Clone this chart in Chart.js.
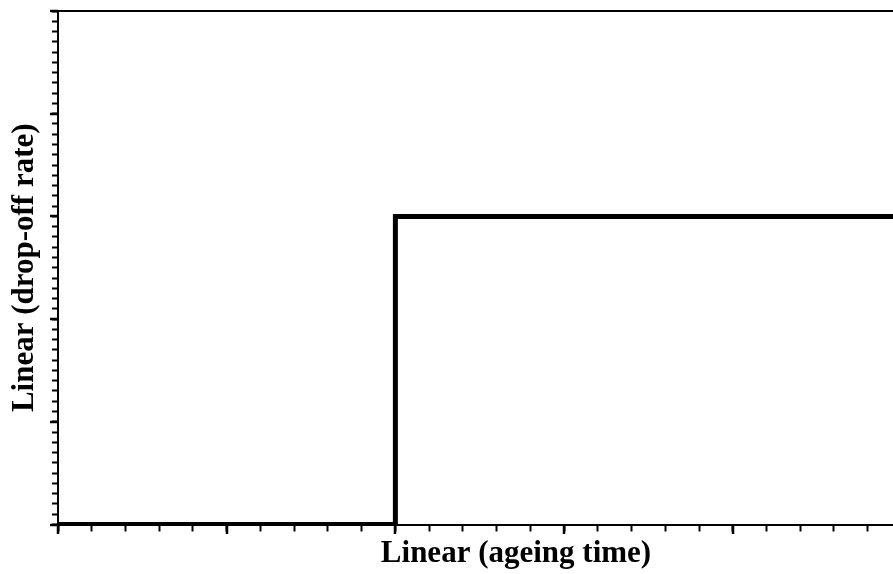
<!DOCTYPE html>
<html>
<head>
<meta charset="utf-8">
<script src="https://cdn.jsdelivr.net/npm/chart.js@4/dist/chart.umd.min.js"></script>
<style>
  html, body { margin: 0; padding: 0; background: #fff; overflow: hidden; }
  #wrap { width: 893px; height: 574px; overflow: hidden; }
  canvas { display: block; }
</style>
</head>
<body>
<div id="wrap"><canvas id="chart" width="974" height="574"></canvas></div>
<script>
// step response: flat at zero, then jumps to a constant level
const stepX = [0, 2, 2, 5.43];
const stepY = [0, 0, 3, 3];

const xAxisTitle = "Linear (ageing time)";
const yAxisTitle = "Linear (drop-off rate)";

// the plot runs on past the right edge of the visible frame
const xRange = [0, 5.43];
const yRange = [0, 5];
const xMinorStep = 0.2;
const yMinorStep = 0.1;

const titleFont = { family: "'Liberation Serif', 'Times New Roman', serif", size: 31, weight: "bold", lineHeight: 1.2 };

function isMajor(v) {
  return Math.abs(v - Math.round(v)) < 1e-6;
}

// longer marks on the whole-number ticks
const majorTicks = {
  id: "majorTicks",
  afterDraw(chart) {
    const { ctx } = chart;
    const xs = chart.scales.x;
    const ys = chart.scales.y;
    ctx.save();
    ctx.strokeStyle = "#000";
    ctx.lineWidth = 2.5;
    for (const t of xs.ticks) {
      if (!isMajor(t.value)) continue;
      const px = Math.round(xs.getPixelForValue(t.value));
      ctx.beginPath();
      ctx.moveTo(px, xs.top);
      ctx.lineTo(px, xs.top + 9.5);
      ctx.stroke();
    }
    for (const t of ys.ticks) {
      if (!isMajor(t.value)) continue;
      const py = Math.round(ys.getPixelForValue(t.value));
      ctx.beginPath();
      ctx.moveTo(ys.right - 8, py);
      ctx.lineTo(ys.right, py);
      ctx.stroke();
    }
    ctx.restore();
  }
};

const points = stepX.map((x, i) => ({ x: x, y: stepY[i] }));

new Chart(document.getElementById("chart"), {
  type: "line",
  data: {
    datasets: [{
      data: points,
      borderColor: "#000",
      borderWidth: 5,
      borderJoinStyle: "miter",
      pointRadius: 0,
      tension: 0,
      fill: false,
    }],
  },
  options: {
    responsive: false,
    animation: false,
    events: [],
    layout: { padding: { left: 2, top: 11, right: 0, bottom: 1.3 } },
    plugins: {
      legend: { display: false },
      tooltip: { enabled: false },
    },
    scales: {
      x: {
        type: "linear",
        position: "bottom",
        min: xRange[0],
        max: xRange[1],
        ticks: { display: false, stepSize: xMinorStep, includeBounds: false },
        grid: { drawOnChartArea: false, drawTicks: true, tickLength: 7, tickWidth: 2, tickColor: "#000" },
        border: { display: true, color: "#000", width: 2 },
        title: { display: true, text: xAxisTitle, color: "#000", font: titleFont, padding: { top: 4, bottom: 0 } },
      },
      x2: {
        type: "linear",
        position: "top",
        min: xRange[0],
        max: xRange[1],
        ticks: { display: false },
        grid: { display: false, drawTicks: false },
        border: { display: true, color: "#000", width: 2 },
      },
      y: {
        type: "linear",
        position: "left",
        min: yRange[0],
        max: yRange[1],
        ticks: { display: false, stepSize: yMinorStep, includeBounds: false },
        grid: { drawOnChartArea: false, drawTicks: true, tickLength: 6, tickWidth: 2, tickColor: "#000" },
        border: { display: true, color: "#000", width: 2 },
        title: { display: true, text: yAxisTitle, color: "#000", font: titleFont, padding: { top: 4.4, bottom: 8.4 } },
      },
    },
  },
  plugins: [majorTicks],
});
</script>
</body>
</html>
